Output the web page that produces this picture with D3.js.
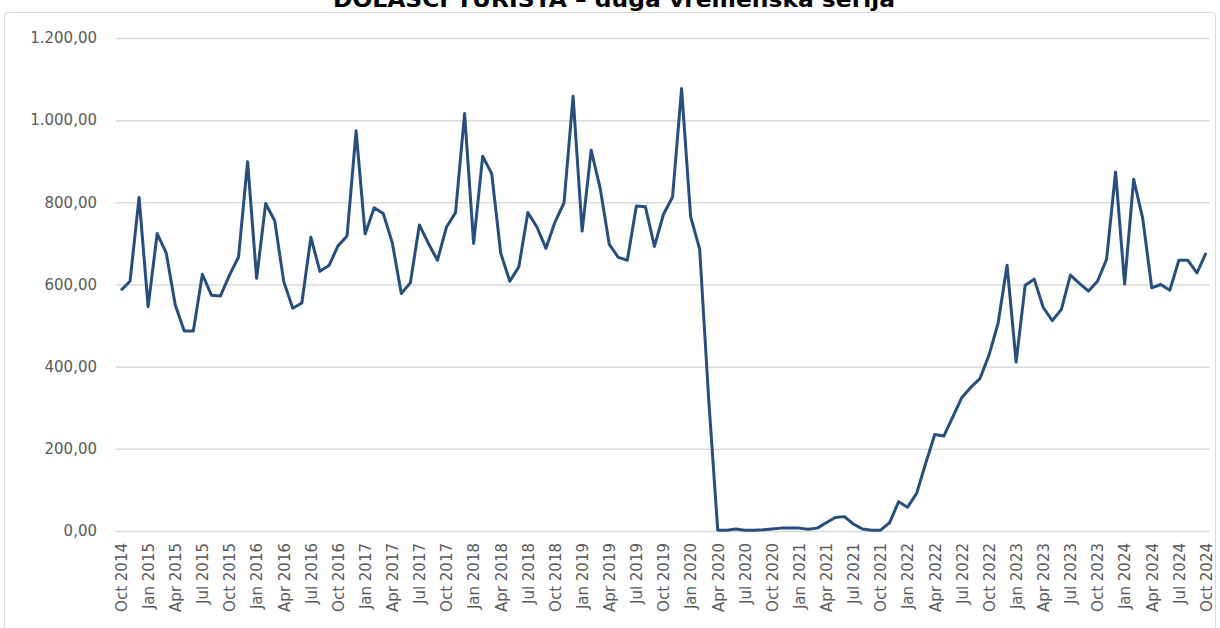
<!DOCTYPE html>
<html lang="hr">
<head>
<meta charset="utf-8">
<title>Dolasci turista</title>
<script src="https://cdn.jsdelivr.net/npm/d3@7"></script>
<style>
  body { margin: 0; background: #fff; }
  text { font-family: "DejaVu Sans", sans-serif; }
</style>
</head>
<body>
<script>
// mjesecni podaci, Oct 2014 - Oct 2024
var startMonth = new Date(2014, 9, 1);
var endMonth = new Date(2024, 10, 1);

var arrivals = [
  586, 608, 812, 546, 724, 677, 550, 487, 487, 625, 574, 572,
  623, 667, 899, 615, 797, 755, 607, 542, 555, 715, 632, 646,
  694, 718, 974, 723, 787, 773, 702, 578, 604, 745, 700, 659,
  740, 775, 1016, 700, 912, 870, 676, 608, 643, 775, 740, 688,
  752, 799, 1058, 730, 927, 834, 698, 666, 659, 791, 789, 693,
  771, 813, 1077, 765, 686, 320, 2, 2, 5, 2, 2, 3,
  5, 7, 7, 7, 4, 7, 20, 33, 35, 17, 5, 2,
  2, 20, 71, 58, 92, 165, 235, 231, 278, 325, 350, 371,
  428, 505, 647, 411, 598, 613, 544, 512, 539, 623, 603, 584,
  608, 661, 874, 601, 856, 761, 592, 600, 586, 659, 659, 628,
  677
];

var yTicks = [0, 200, 400, 600, 800, 1000, 1200];
var title = "DOLASCI TURISTA \u2013 duga vremenska serija";

var width = 1220, height = 628;
var months = d3.timeMonth.range(startMonth, endMonth);

var svg = d3.select("body").append("svg")
    .attr("width", width)
    .attr("height", height);

// okvir grafikona
svg.append("rect")
    .attr("x", 4.5).attr("y", 12.5)
    .attr("width", 1211).attr("height", 660)
    .attr("rx", 4)
    .attr("fill", "none")
    .attr("stroke", "#d9d9d9");

svg.append("text")
    .attr("x", 614).attr("y", 7)
    .attr("text-anchor", "middle")
    .attr("font-size", 21)
    .attr("font-weight", "bold")
    .attr("textLength", 562)
    .attr("lengthAdjust", "spacingAndGlyphs")
    .attr("fill", "#000")
    .text(title);

var x = d3.scaleLinear()
    .domain([0, months.length - 1])
    .range([121, 1206]);

var y = d3.scaleLinear()
    .domain([0, 1200])
    .range([531, 38]);

var hr = d3.formatLocale({ decimal: ",", thousands: ".", grouping: [3], currency: ["", ""] });
var fmt = hr.format(",.2f");
var monthFmt = d3.timeFormat("%b %Y");

// y os i mreza
var yAxis = svg.append("g")
    .attr("transform", "translate(116,0)")
    .call(d3.axisLeft(y).tickValues(yTicks).tickFormat(fmt)
        .tickSize(-1094).tickPadding(19));
yAxis.select(".domain").remove();
yAxis.selectAll(".tick line").attr("stroke", "#d9d9d9").attr("stroke-width", 1.5);
yAxis.selectAll(".tick text")
    .attr("fill", "#595959")
    .attr("font-size", 15)
    .attr("font-family", "DejaVu Sans, sans-serif");

// x os - svaki treci mjesec
var tickIdx = d3.range(0, months.length, 3);
var xAxis = svg.append("g")
    .attr("transform", "translate(0,531)")
    .call(d3.axisBottom(x).tickValues(tickIdx)
        .tickFormat(function (i) { return monthFmt(months[i]); })
        .tickSize(0).tickPadding(0));
xAxis.select(".domain").remove();
xAxis.selectAll(".tick text")
    .attr("fill", "#595959")
    .attr("font-size", 15)
    .attr("font-family", "DejaVu Sans, sans-serif")
    .attr("text-anchor", "end")
    .attr("dy", "0.35em")
    .attr("transform", "translate(0,12) rotate(-90)");

var line = d3.line()
    .x(function (d, i) { return x(i); })
    .y(function (d) { return y(d); });

svg.append("path")
    .datum(arrivals)
    .attr("d", line)
    .attr("fill", "none")
    .attr("stroke", "#264f7d")
    .attr("stroke-width", 3)
    .attr("stroke-linejoin", "round");
</script>
</body>
</html>
